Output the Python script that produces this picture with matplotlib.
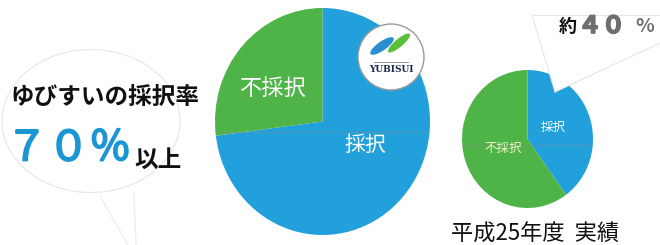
import matplotlib
matplotlib.use("Agg")
import matplotlib.pyplot as plt
import matplotlib.patheffects as pe
from matplotlib.patches import Ellipse, Circle, Polygon

plt.rcParams['font.family'] = ['Noto Sans CJK JP', 'DejaVu Sans']

# data
big_labels = ['採択', '不採択']
big_values = [73, 27]          # ゆびすい: 70%以上
small_labels = ['採択', '不採択']
small_values = [40, 60]        # 平成25年度 実績: 約40%

blue = '#21a0db'
green = '#4fb448'

W, H = 660, 245
fig = plt.figure(figsize=(6.6, 2.45), dpi=100)


def pix_axes(x0, y0, x1, y1):
    return fig.add_axes([x0 / W, (H - y1) / H, (x1 - x0) / W, (y1 - y0) / H])


# background axes in pixel coordinates (y downward)
bg = fig.add_axes([0, 0, 1, 1])
bg.set_xlim(0, W)
bg.set_ylim(H, 0)
bg.axis('off')

# faint speech bubble on the left
bg.add_patch(Ellipse((91, 121), 178, 143, fill=False, ec='#e6e6e6', lw=0.8))
bg.plot([100, 128], [196, 245], color='#ebebeb', lw=0.8)
bg.plot([134, 136], [194, 245], color='#ebebeb', lw=0.8)

# big pie
ax1 = pix_axes(215, 8, 430, 235)
ax1.pie(big_values, colors=[blue, green], startangle=90, counterclock=False,
        wedgeprops=dict(linewidth=0))
ax1.set_aspect('auto')
ax1.set_xlim(-1, 1)
ax1.set_ylim(-1, 1)
ax1.axhline(-0.09, color='#8a8a8a', lw=0.6, alpha=0.6)

# small pie
ax2 = pix_axes(462, 70, 593, 208)
ax2.pie(small_values, colors=[blue, green], startangle=90, counterclock=False,
        wedgeprops=dict(linewidth=0))
ax2.set_aspect('auto')
ax2.set_xlim(-1, 1)
ax2.set_ylim(-1, 1)
ax2.axhline(-0.09, color='#8a8a8a', lw=0.6, alpha=0.6)

# overlay axes for texts, logo and callout
fg = fig.add_axes([0, 0, 1, 1])
fg.set_xlim(0, W)
fg.set_ylim(H, 0)
fg.axis('off')
fg.patch.set_alpha(0)

fg.text(10, 97, 'ゆびすいの採択率', fontsize=17, fontweight='bold', color='#111111',
        ha='left', va='center')
fg.text(6, 149, '７０％', fontsize=30, color='#1a96d4', ha='left', va='center',
        path_effects=[pe.withStroke(linewidth=1.3, foreground='#1a96d4')])
fg.text(134, 160, '以上', fontsize=17, fontweight='bold', color='#111111',
        ha='left', va='center')

fg.text(272, 88, big_labels[1], fontsize=16, color='white', ha='center', va='center')
fg.text(365, 145, big_labels[0], fontsize=15, color='white', ha='center', va='center')
fg.text(553, 127, small_labels[0], fontsize=9, color='white', ha='center', va='center')
fg.text(503, 148, small_labels[1], fontsize=9, color='#eef4c8', ha='center', va='center')

# logo
fg.add_patch(Circle((391, 57), 33, fc='white', ec='#9a9a9a', lw=1.0))
fg.add_patch(Ellipse((382, 46), 28, 9, angle=-35, fc='#2a8fd0', ec='none'))
fg.add_patch(Ellipse((399, 43), 28, 8, angle=-40, fc='#5cbf3c', ec='none'))
fg.plot([374, 408], [62, 62], color='#888888', lw=0.6)
fg.text(391, 69, 'YUBISUI', fontsize=6.5, family='DejaVu Serif', fontweight='bold',
        color='#1c2a4a', ha='center', va='center')

# callout for 約40%
fg.add_patch(Polygon([(532, 15), (555, 92), (660, 43), (660, 15)], closed=True,
                     fc='white', ec='none'))
fg.plot([532, 660], [15, 15], color='#e6e6e6', lw=0.8)
fg.plot([532, 555], [15, 92], color='#e6e6e6', lw=0.8)
fg.plot([660, 555], [43, 92], color='#e6e6e6', lw=0.8)
fg.text(559, 27, '約', fontsize=13, fontweight='bold', color='#111111',
        ha='left', va='center')
fg.text(578, 26, '４０', fontsize=17, fontweight='bold', color='#6e6e6e',
        ha='left', va='center',
        path_effects=[pe.withStroke(linewidth=1.2, foreground='#6e6e6e')])
fg.text(635, 27, '%', fontsize=14, fontweight='bold', color='#6e6e6e',
        ha='left', va='center')

fg.text(451, 234, '平成25年度  実績', fontsize=16, color='#111111', ha='left', va='center')

fig.savefig('out.png', dpi=100)
